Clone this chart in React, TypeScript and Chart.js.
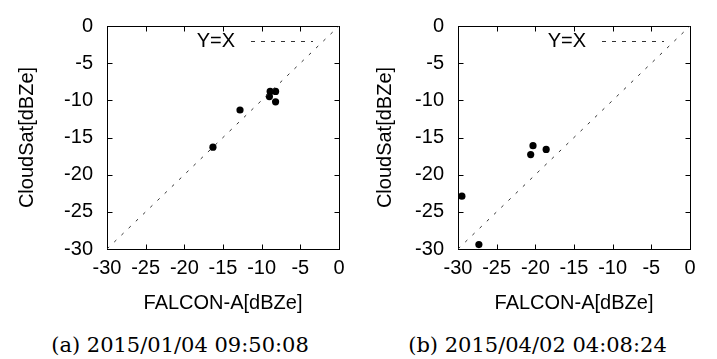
import React, { useEffect, useRef } from "react";
import { Chart, registerables } from "chart.js";

Chart.register(...registerables);

// ---- data ----
const TICK_VALUES = [-30, -25, -20, -15, -10, -5, 0];
const AXIS_MIN = -30;
const AXIS_MAX = 0;
const X_TITLE = "FALCON-A[dBZe]";
const Y_TITLE = "CloudSat[dBZe]";
const LEGEND_LABEL = "Y=X";
const DIAG_VALUES = [-30, 0];

const A_X = [-16.3, -12.8, -9.0, -8.9, -8.2, -8.2];
const A_Y = [-16.3, -11.3, -9.5, -8.8, -8.8, -10.2];
const B_X = [-29.5, -27.3, -20.6, -20.3, -18.6];
const B_Y = [-22.9, -29.4, -17.3, -16.1, -16.6];

const CAPTION_A = "(a) 2015/01/04 09:50:08";
const CAPTION_B = "(b) 2015/04/02 04:08:24";

const FONT = "'Liberation Sans', Arial, sans-serif";
const FONT_SIZE = 20;
const CANVAS_H = 325;
const PLOT_TOP = 19;
const PLOT_BOTTOM = 249;

const framePlugin = {
  id: "frame",
  beforeDatasetsDraw(chart: any) {
    const { ctx, chartArea, scales } = chart;
    const l = Math.round(chartArea.left) + 0.5;
    const r = Math.round(chartArea.right) + 0.5;
    const t = Math.round(chartArea.top) + 0.5;
    const b = Math.round(chartArea.bottom) + 0.5;
    ctx.save();
    ctx.strokeStyle = "#000";
    ctx.lineWidth = 1;
    ctx.setLineDash([]);
    ctx.strokeRect(l, t, r - l, b - t);
    const len = 5;
    ctx.beginPath();
    for (const v of TICK_VALUES) {
      const px = Math.round(scales.x.getPixelForValue(v)) + 0.5;
      ctx.moveTo(px, b);
      ctx.lineTo(px, b - len);
      ctx.moveTo(px, t);
      ctx.lineTo(px, t + len);
      const py = Math.round(scales.y.getPixelForValue(v)) + 0.5;
      ctx.moveTo(l, py);
      ctx.lineTo(l + len, py);
      ctx.moveTo(r, py);
      ctx.lineTo(r - len, py);
    }
    ctx.stroke();
    ctx.restore();
  },
  afterDraw(chart: any) {
    const { ctx, chartArea } = chart;
    const r = chartArea.right;
    const y = chartArea.top + 15;
    ctx.save();
    ctx.fillStyle = "#000";
    ctx.font = `${FONT_SIZE}px ${FONT}`;
    ctx.textAlign = "right";
    ctx.textBaseline = "middle";
    ctx.fillText(LEGEND_LABEL, r - 104, y);
    ctx.strokeStyle = "#333";
    ctx.lineWidth = 1;
    ctx.setLineDash([4, 6]);
    ctx.beginPath();
    ctx.moveTo(r - 88, Math.round(y) + 0.5);
    ctx.lineTo(r - 26, Math.round(y) + 0.5);
    ctx.stroke();
    ctx.restore();
  },
};

function Panel(props: {
  xs: number[];
  ys: number[];
  width: number;
  axisWidth: number;
  rightPad: number;
}) {
  const ref = useRef<HTMLCanvasElement | null>(null);
  useEffect(() => {
    if (!ref.current) return;
    const points = props.xs.map((x, i) => ({ x, y: props.ys[i] }));
    const diag = DIAG_VALUES.map((v) => ({ x: v, y: v }));
    const font = { family: FONT, size: FONT_SIZE };
    const chart = new Chart(ref.current, {
      type: "scatter",
      data: {
        datasets: [
          {
            type: "line",
            data: diag,
            borderColor: "#333",
            borderWidth: 1,
            borderDash: [3, 7],
            pointRadius: 0,
            fill: false,
          } as any,
          {
            data: points,
            pointRadius: 3.6,
            pointBackgroundColor: "#000",
            pointBorderWidth: 0,
            borderColor: "#000",
          },
        ],
      },
      options: {
        animation: false,
        responsive: false,
        maintainAspectRatio: false,
        events: [],
        layout: {
          padding: { top: PLOT_TOP, right: props.rightPad, bottom: 0, left: 0 },
        },
        plugins: {
          legend: { display: false },
          tooltip: { enabled: false },
        },
        scales: {
          x: {
            type: "linear",
            min: AXIS_MIN,
            max: AXIS_MAX,
            grid: { display: false, drawTicks: false },
            border: { display: false },
            afterBuildTicks: (s: any) => {
              s.ticks = TICK_VALUES.map((v) => ({ value: v }));
            },
            afterFit: (s: any) => {
              s.height = CANVAS_H - PLOT_BOTTOM;
            },
            ticks: {
              color: "#000",
              padding: 7,
              maxRotation: 0,
              autoSkip: false,
              font,
            },
            title: {
              display: true,
              text: X_TITLE,
              color: "#000",
              font,
              padding: { top: 0, bottom: 10 },
            },
          },
          y: {
            type: "linear",
            min: AXIS_MIN,
            max: AXIS_MAX,
            grid: { display: false, drawTicks: false },
            border: { display: false },
            afterBuildTicks: (s: any) => {
              s.ticks = TICK_VALUES.map((v) => ({ value: v }));
            },
            afterFit: (s: any) => {
              s.width = props.axisWidth;
            },
            ticks: {
              color: "#000",
              padding: 14,
              autoSkip: false,
              font,
            },
            title: {
              display: true,
              text: Y_TITLE,
              color: "#000",
              font,
              padding: { top: 15, bottom: 0 },
            },
          },
        },
      },
      plugins: [framePlugin],
    });
    return () => chart.destroy();
  }, []);
  return (
    <canvas
      ref={ref}
      width={props.width}
      height={CANVAS_H}
      style={{ display: "block", width: props.width, height: CANVAS_H }}
    />
  );
}

const captionStyle: React.CSSProperties = {
  position: "absolute",
  top: 335,
  textAlign: "center",
  fontFamily: "'DejaVu Serif', serif",
  fontSize: 21,
  lineHeight: "21px",
  color: "#000",
  whiteSpace: "nowrap",
};

export default function App() {
  return (
    <div
      style={{
        position: "fixed",
        left: 0,
        top: 0,
        width: 717,
        height: 359,
        background: "#fff",
        overflow: "hidden",
      }}
    >
      <div style={{ position: "absolute", left: 0, top: 0 }}>
        <Panel xs={A_X} ys={A_Y} width={358} axisWidth={107} rightPad={19} />
      </div>
      <div style={{ position: "absolute", left: 358, top: 0 }}>
        <Panel xs={B_X} ys={B_Y} width={359} axisWidth={100} rightPad={27} />
      </div>
      <div style={{ ...captionStyle, left: 0, width: 360 }}>{CAPTION_A}</div>
      <div style={{ ...captionStyle, left: 358, width: 359 }}>{CAPTION_B}</div>
    </div>
  );
}
